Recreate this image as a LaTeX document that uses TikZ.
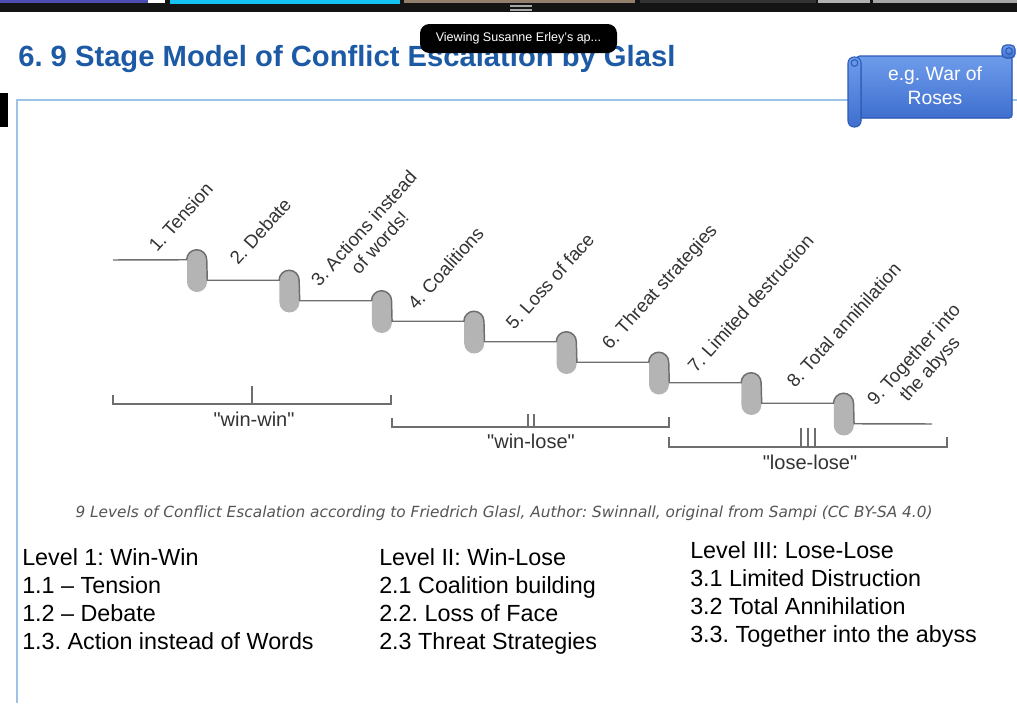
\documentclass[tikz,border=0pt]{standalone}
\usepackage{fontspec}
\setmainfont{Liberation Sans}
\newfontfamily\capfont{DejaVu Sans}
\usetikzlibrary{calc}
\definecolor{glaslTitle}{HTML}{1D5AA6}
\definecolor{glaslFrame}{HTML}{9DC3E6}
\definecolor{glaslStair}{HTML}{6E6E6E}
\definecolor{glaslPill}{HTML}{B4B4B4}
\definecolor{glaslInk}{HTML}{333333}
\definecolor{glaslScrollTop}{HTML}{6E9CEB}
\definecolor{glaslScrollBot}{HTML}{3F6FCF}
\definecolor{glaslScrollEdge}{HTML}{2C5BB8}
\definecolor{glaslCaption}{HTML}{555555}
\definecolor{glaslBar}{HTML}{141414}
\definecolor{glaslCyan}{HTML}{14C3F2}
\frenchspacing

\begin{document}
\begin{tikzpicture}[x=0.75pt,y=-0.75pt,
    pill/.style={rectangle,rounded corners=7.5pt,minimum width=15pt,
                 minimum height=31.5pt,inner sep=0pt,fill=glaslPill},
    stair/.style={draw=glaslStair,line width=1.1pt},
    stage/.style={font=\fontsize{14}{16}\selectfont,text=glaslInk,
                  rotate=48,anchor=base west,inner sep=0pt},
    bracket/.style={draw=glaslStair,line width=0.9pt},
    camp/.style={font=\fontsize{15}{18}\selectfont,text=glaslInk,
                 anchor=base,inner sep=0pt},
    levels/.style={font=\fontsize{17.5}{21}\selectfont,align=left,
                   anchor=base west,inner sep=0pt}]
  \useasboundingbox (0,0) rectangle (1017,703);
  \fill[white] (0,0) rectangle (1017,703);

  % screen bar
  \fill[glaslBar] (0,0) rectangle (1017,12);
  \fill[gray!60!blue] (0,0) rectangle (148,3);
  \fill[white] (148,0) rectangle (165,3);
  \fill[glaslCyan] (170,0) rectangle (400,4);
  \fill[gray!70!brown] (404,0) rectangle (635,3);
  \fill[gray!40!black] (640,0) rectangle (816,3);
  \fill[gray!60] (818,0) rectangle (870,3);
  \fill[gray!70] (873,0) rectangle (1017,3);
  \draw[gray!70,line width=0.8pt] (510,6) -- (532,6) (510,10) -- (532,10);

  \fill[black] (0,93) rectangle (8,127);
  \draw[glaslFrame,line width=1.5pt] (17,703) -- (17,100) -- (1017,100);

  \node[anchor=base west,inner sep=0pt,text=glaslTitle,
        font=\fontsize{21.9}{26}\selectfont\bfseries] (title) at (18,66)
    {6. 9 Stage Model of Conflict Escalation by Glasl};
  \node[fill=black,text=white,rounded corners=7pt,minimum width=147.75pt,
        minimum height=21.75pt,inner sep=0pt,font=\fontsize{9.4}{11}\selectfont]
    (tip) at (518.5,38.5) {Viewing Susanne Erley's ap...};

  % scroll
  \filldraw[top color=glaslScrollTop,bottom color=glaslScrollBot,
            draw=glaslScrollEdge,line width=0.8pt,rounded corners=2pt]
    (857,56) rectangle (1012,118);
  \filldraw[top color=glaslScrollTop,bottom color=glaslScrollBot,
            draw=glaslScrollEdge,line width=0.8pt,rounded corners=3pt]
    (1002,45) rectangle (1015,58);
  \draw[glaslScrollEdge,line width=0.8pt] (1009,51) circle[radius=2.5pt];
  \filldraw[top color=glaslScrollTop,bottom color=glaslScrollBot,
            draw=glaslScrollEdge,line width=0.8pt,rounded corners=4.5pt]
    (848,57) rectangle (861,127);
  \draw[glaslScrollEdge,line width=0.8pt] (854.5,63) circle[radius=2.5pt];
  \node[text=white,align=center,inner sep=0pt,
        font=\fontsize{14.5}{18}\selectfont] (scroll) at (935,86)
    {e.g. War of\\Roses};

  % staircase
  \coordinate (start) at (113,260);
  \coordinate (stop) at (932,424);
  \foreach \i in {1,...,8}
    \node[pill] (p\i) at ({197+92.4*(\i-1)},{271+20.5*(\i-1)}) {};
  \draw[stair] (start)
    \foreach \i in {1,...,8}{
      -- ($(p\i.north west)+(0,10)$)
      arc[start angle=180,end angle=0,radius=7.5pt]
      -- ($(p\i.north east)+(0,30.5)$)}
    -- (stop);

  \node[stage] (t1) at (157,253) {1. Tension};
  \node[stage] (t2) at (238,266) {2. Debate};
  \node[stage,align=center] (t3) at (335,302) {3. Actions instead\\of words!};
  \node[stage] (t4) at (416,311) {4. Coalitions};
  \node[stage] (t5) at (514,331) {5. Loss of face};
  \node[stage] (t6) at (610,351) {6. Threat strategies};
  \node[stage] (t7) at (696,374) {7. Limited destruction};
  \node[stage] (t8) at (795,389) {8. Total annihilation};
  \node[stage,align=center] (t9) at (891,421) {9. Together into\\the abyss};

  % brackets
  \draw[bracket] (113,395) -- (113,404) -- (391,404) -- (391,395)
                 (252,386) -- (252,404);
  \draw[bracket] (392,418) -- (392,427) -- (669,427) -- (669,417)
                 (528,414) -- (528,427) (534,414) -- (534,427);
  \draw[bracket] (669,437) -- (669,447) -- (947,447) -- (947,437)
                 (801,428) -- (801,447) (808,428) -- (808,447)
                 (815,428) -- (815,447);
  \node[camp] (winwin) at (254,426) {\textquotedbl win-win\textquotedbl};
  \node[camp] (winlose) at (531,448) {\textquotedbl win-lose\textquotedbl};
  \node[camp] (loselose) at (810,469) {\textquotedbl lose-lose\textquotedbl};

  \node[anchor=base,inner sep=0pt,text=glaslCaption,
        font=\capfont\itshape\fontsize{11.5}{13}\selectfont] (caption) at (504,517)
    {9 Levels of Conflict Escalation according to Friedrich Glasl, Author: Swinnall, original from Sampi (CC BY-SA 4.0)};

  \node[levels] (lvl1) at (22,649)
    {Level 1: Win-Win\\1.1 – Tension\\1.2 – Debate\\1.3. Action instead of Words};
  \node[levels] (lvl2) at (379,649)
    {Level II: Win-Lose\\2.1 Coalition building\\2.2. Loss of Face\\2.3 Threat Strategies};
  \node[levels] (lvl3) at (690,642)
    {Level III: Lose-Lose\\3.1 Limited Distruction\\3.2 Total Annihilation\\3.3. Together into the abyss};
\end{tikzpicture}
\end{document}
